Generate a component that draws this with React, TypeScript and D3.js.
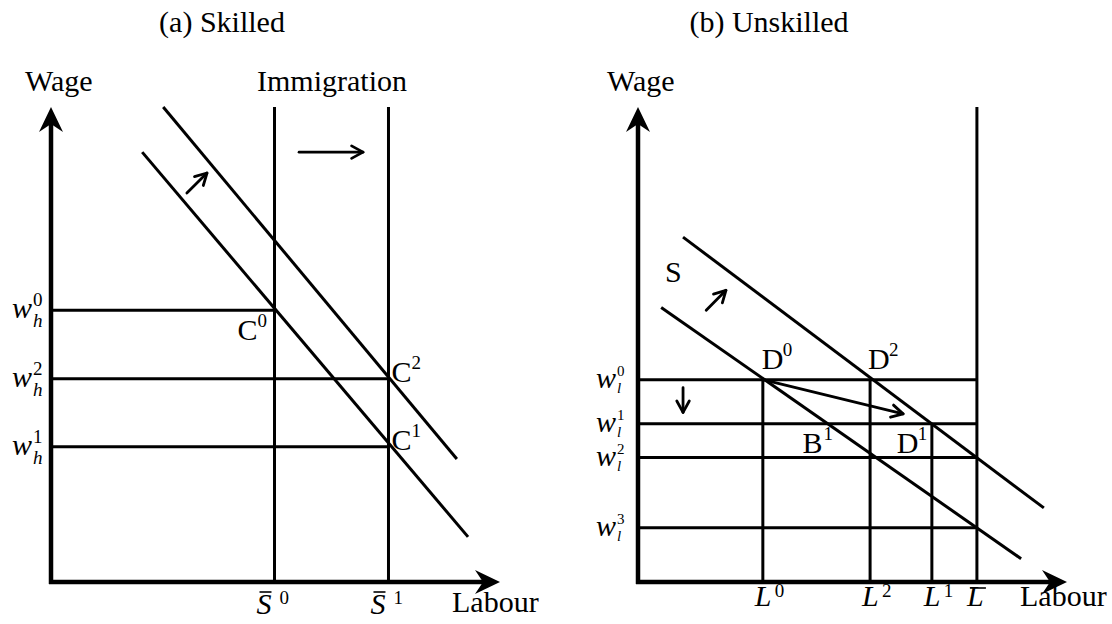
import React from 'react';
import * as d3 from 'd3';

// ---- panel (a) skilled ----
const skilledSupply = [50, 75.5]; // S-bar 0, S-bar 1
const skilledSupplyLabels = ['0', '1'];
const skilledWages = [57.2, 42.8, 28.5]; // w_h^0, w_h^2, w_h^1
const skilledWageLabels = ['0', '2', '1'];
const skilledWageEnds = [50, 75.5, 75.5];
const skilledDemand = [
  [[20.4, 90.5], [93.3, 9.5]],
  [[25.1, 100], [90.8, 25.9]],
];
const skilledPoints = [
  { name: 'C', sup: '0', x: 50, y: 57.2 },
  { name: 'C', sup: '2', x: 75.5, y: 42.8 },
  { name: 'C', sup: '1', x: 75.5, y: 28.5 },
];

// ---- panel (b) unskilled ----
const unskilledLabour = [29.1, 54.1, 68.5]; // L0, L2, L1
const unskilledLabourLabels = ['0', '2', '1'];
const unskilledLabourTops = [42.6, 42.6, 33.3];
const labourBar = 79;
const unskilledWages = [42.6, 33.3, 26.2, 11.4];
const unskilledWageLabels = ['0', '1', '2', '3'];
const unskilledLines = [
  [[5.4, 57.8], [89.3, 4.9]],
  [[10.5, 72.6], [94.6, 15.6]],
];
const unskilledPoints = [
  { name: 'D', sup: '0', x: 29.1, y: 42.6, dx: -1, dy: -11 },
  { name: 'D', sup: '2', x: 54.1, y: 42.6, dx: -2, dy: -11 },
  { name: 'B', sup: '1', x: 44.4, y: 33.3, dx: -26, dy: 29 },
  { name: 'D', sup: '1', x: 68.5, y: 33.3, dx: -35, dy: 29 },
];

const FONT = "'Liberation Serif', 'Times New Roman', serif";
const W = 1112;
const H = 624;
const FS = 30;
const SS = 19;

const xa = d3.scaleLinear().domain([0, 100]).range([51, 498]);
const ya = d3.scaleLinear().domain([0, 100]).range([582, 107]);
const xb = d3.scaleLinear().domain([0, 100]).range([638, 1067]);
const yb = d3.scaleLinear().domain([0, 100]).range([582, 107]);

const line = d3.line<number[]>();

function AxisHead({ x, y, dir }: { x: number; y: number; dir: 'up' | 'right' }) {
  const L = 25, hw = 12, notch = 17;
  const pts = dir === 'up'
    ? [[x, y], [x + hw, y + L], [x, y + notch], [x - hw, y + L]]
    : [[x, y], [x - L, y - hw], [x - notch, y], [x - L, y + hw]];
  return <polygon points={pts.map(p => p.join(',')).join(' ')} fill="#000" />;
}

function Arrow({ x1, y1, x2, y2 }: { x1: number; y1: number; x2: number; y2: number }) {
  const a = Math.atan2(y2 - y1, x2 - x1);
  const len = 13, spread = 0.5;
  const p1 = [x2 - len * Math.cos(a - spread), y2 - len * Math.sin(a - spread)];
  const p2 = [x2 - len * Math.cos(a + spread), y2 - len * Math.sin(a + spread)];
  return (
    <g stroke="#000" strokeWidth={2.8} fill="none" strokeLinecap="round" strokeLinejoin="round">
      <line x1={x1} y1={y1} x2={x2} y2={y2} />
      <polyline points={`${p1.join(',')} ${x2},${y2} ${p2.join(',')}`} />
    </g>
  );
}

function WLabel({ x, y, sub, sup, supDy, subDy, ss }: { x: number; y: number; sub: string; sup: string; supDy: number; subDy: number; ss: number }) {
  return (
    <g fontFamily={FONT}>
      <text x={x} y={y + 8} fontSize={FS} fontStyle="italic">w</text>
      <text x={x + 21} y={y + supDy} fontSize={ss}>{sup}</text>
      <text x={x + 21} y={y + subDy} fontSize={ss} fontStyle="italic">{sub}</text>
    </g>
  );
}

export default function App() {
  return (
    <svg width={W} height={H} style={{ position: 'absolute', left: 0, top: 0, background: '#fff' }}
      fontFamily={FONT}>
      {/* titles */}
      <text x={222} y={32} fontSize={FS} textAnchor="middle">(a) Skilled</text>
      <text x={769} y={32} fontSize={FS} textAnchor="middle">(b) Unskilled</text>

      {/* ===== panel a ===== */}
      <text x={25} y={91} fontSize={FS}>Wage</text>
      <text x={257} y={91} fontSize={FS}>Immigration</text>
      <text x={452} y={612} fontSize={FS}>Labour</text>

      <g stroke="#000" strokeWidth={3}>
        {skilledSupply.map((s, i) => (
          <line key={i} x1={xa(s)} x2={xa(s)} y1={ya(0)} y2={ya(100)} />
        ))}
        {skilledWages.map((w, i) => (
          <line key={i} x1={xa(0)} x2={xa(skilledWageEnds[i])} y1={ya(w)} y2={ya(w)} />
        ))}
        {skilledDemand.map((d, i) => (
          <path key={i} d={line(d.map(p => [xa(p[0]), ya(p[1])]))!} fill="none" />
        ))}
      </g>
      <g stroke="#000" strokeWidth={4.5}>
        <line x1={xa(0)} x2={xa(0)} y1={ya(0) + 2} y2={ya(100) + 10} />
        <line x1={xa(0) - 2} x2={xa(100) - 10} y1={ya(0)} y2={ya(0)} />
      </g>
      <AxisHead x={xa(0)} y={ya(100)} dir="up" />
      <AxisHead x={xa(100) + 2} y={ya(0)} dir="right" />

      <Arrow x1={xa(55.5)} y1={ya(90.5)} x2={xa(69.8)} y2={ya(90.5)} />
      <Arrow x1={xa(30.4)} y1={ya(81.9)} x2={xa(34.9)} y2={ya(86.1)} />

      {skilledWages.map((w, i) => (
        <WLabel key={i} x={12} y={ya(w)} sub="h" sup={skilledWageLabels[i]} supDy={-4} subDy={17} ss={SS} />
      ))}
      {skilledPoints.map((p, i) => {
        const px = xa(p.x), py = ya(p.y);
        const lx = i === 0 ? px - 37 : px + 3;
        const ly = i === 0 ? py + 30 : py + 3;
        return (
          <g key={i}>
            <text x={lx} y={ly} fontSize={FS}>{p.name}</text>
            <text x={lx + 20} y={ly - 13} fontSize={SS}>{p.sup}</text>
          </g>
        );
      })}
      {skilledSupply.map((s, i) => {
        const px = xa(s);
        return (
          <g key={i}>
            <text x={px - 18} y={614} fontSize={FS} fontStyle="italic">S</text>
            <line x1={px - 15} x2={px - 3} y1={592} y2={592} stroke="#000" strokeWidth={1.6} />
            <text x={px + 5} y={604} fontSize={SS}>{skilledSupplyLabels[i]}</text>
          </g>
        );
      })}

      {/* ===== panel b ===== */}
      <text x={607} y={91} fontSize={FS}>Wage</text>
      <text x={1020} y={606} fontSize={FS}>Labour</text>
      <text x={665} y={282} fontSize={FS}>S</text>

      <g stroke="#000" strokeWidth={3}>
        <line x1={xb(labourBar)} x2={xb(labourBar)} y1={yb(0)} y2={yb(100)} />
        {unskilledLabour.map((l, i) => (
          <line key={i} x1={xb(l)} x2={xb(l)} y1={yb(0)} y2={yb(unskilledLabourTops[i])} />
        ))}
        {unskilledWages.map((w, i) => (
          <line key={i} x1={xb(0)} x2={xb(labourBar)} y1={yb(w)} y2={yb(w)} />
        ))}
        {unskilledLines.map((d, i) => (
          <path key={i} d={line(d.map(p => [xb(p[0]), yb(p[1])]))!} fill="none" />
        ))}
      </g>
      <g stroke="#000" strokeWidth={4.5}>
        <line x1={xb(0)} x2={xb(0)} y1={yb(0) + 2} y2={yb(100) + 10} />
        <line x1={xb(0) - 2} x2={xb(100) - 10} y1={yb(0)} y2={yb(0)} />
      </g>
      <AxisHead x={xb(0)} y={yb(100)} dir="up" />
      <AxisHead x={xb(100)} y={yb(0)} dir="right" />

      <Arrow x1={xb(29.1)} y1={yb(42.6)} x2={xb(61.8)} y2={yb(35.4)} />
      <Arrow x1={xb(15.9)} y1={yb(57.2)} x2={xb(20.5)} y2={yb(61.4)} />
      <Arrow x1={xb(10.5)} y1={yb(40.9)} x2={xb(10.5)} y2={yb(35.7)} />

      {unskilledWages.map((w, i) => (
        <WLabel key={i} x={596} y={yb(w)} sub="l" sup={unskilledWageLabels[i]} supDy={-4} subDy={13} ss={15} />
      ))}
      {unskilledPoints.map((p, i) => {
        const lx = xb(p.x) + p.dx, ly = yb(p.y) + p.dy;
        return (
          <g key={i}>
            <text x={lx} y={ly} fontSize={FS}>{p.name}</text>
            <text x={lx + 21} y={ly - 13} fontSize={SS}>{p.sup}</text>
          </g>
        );
      })}
      {unskilledLabour.map((l, i) => {
        const px = xb(l);
        return (
          <g key={i}>
            <text x={px - 8} y={606} fontSize={FS} fontStyle="italic">L</text>
            <text x={px + 12} y={597} fontSize={SS}>{unskilledLabourLabels[i]}</text>
          </g>
        );
      })}
      <text x={xb(labourBar) - 10} y={606} fontSize={FS} fontStyle="italic">L</text>
      <line x1={xb(labourBar) - 7} x2={xb(labourBar) + 9} y1={588} y2={588} stroke="#000" strokeWidth={1.6} />
    </svg>
  );
}
